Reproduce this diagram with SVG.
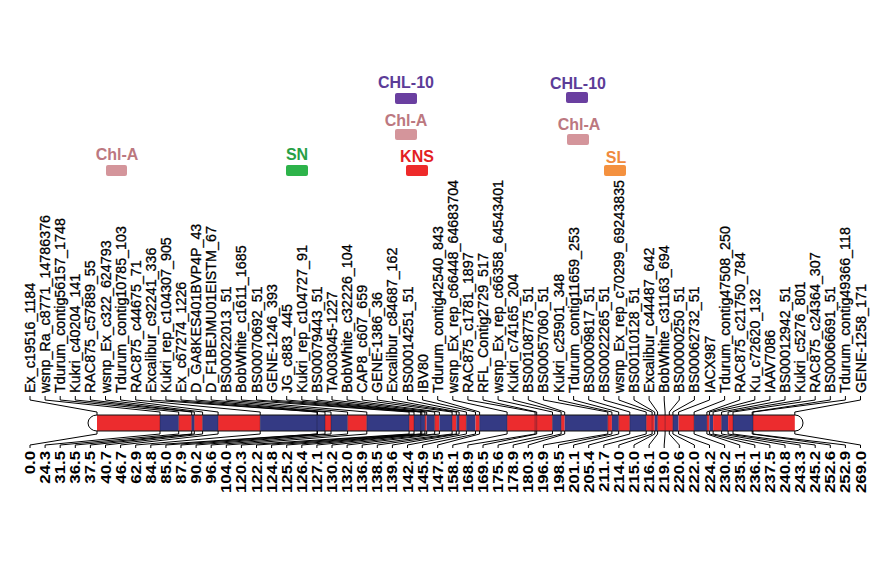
<svg xmlns="http://www.w3.org/2000/svg" width="883" height="585" viewBox="0 0 883 585">
<style>
.t{font-family:"Liberation Sans",Arial,sans-serif;font-size:14.3px;fill:#000;stroke:#000;stroke-width:0.3px}
.n{font-family:"Liberation Sans",Arial,sans-serif;font-size:14px;font-weight:bold;fill:#000;text-anchor:end}
.cn path{fill:none;stroke:#000;stroke-width:1}
.r{fill:#EC2C2E}
.b{fill:#343A84}
.q{font-family:"Liberation Sans",Arial,sans-serif;font-size:16px;font-weight:bold;text-anchor:middle}
.mk{stroke:#1a1a30;stroke-width:0.6;opacity:0.6}
</style>
<rect width="883" height="585" fill="#fff"/>
<g id="qtl-chla-1"><text class="q" x="117" y="160" fill="#BC7880">Chl-A</text><rect x="106" y="165" width="21" height="11" rx="2" fill="#D4959B"/></g>
<g id="qtl-sn"><text class="q" x="297" y="160" fill="#27A046">SN</text><rect x="286" y="165" width="22" height="11" rx="2" fill="#2DB34A"/></g>
<g id="qtl-chl10-1"><text class="q" x="406" y="88" fill="#5C3C98">CHL-10</text><rect x="395" y="93" width="22" height="11" rx="2" fill="#6A3FA0"/></g>
<g id="qtl-chla-2"><text class="q" x="406" y="126" fill="#BC7880">Chl-A</text><rect x="395" y="129" width="22" height="11" rx="2" fill="#D4959B"/></g>
<g id="qtl-kns"><text class="q" x="417" y="162" fill="#E31E24">KNS</text><rect x="406" y="165" width="22" height="11" rx="2" fill="#EE2A2A"/></g>
<g id="qtl-chl10-2"><text class="q" x="578" y="89" fill="#5C3C98">CHL-10</text><rect x="566" y="92" width="22" height="11" rx="2" fill="#6A3FA0"/></g>
<g id="qtl-chla-3"><text class="q" x="579" y="130" fill="#BC7880">Chl-A</text><rect x="567" y="134" width="22" height="11" rx="2" fill="#D4959B"/></g>
<g id="qtl-sl"><text class="q" x="616" y="163" fill="#F08A3C">SL</text><rect x="604" y="165" width="22" height="11" rx="2" fill="#F4913F"/></g>

<g id="chromosome">
<path d="M97,415 A9,8 0 0 0 97,431" fill="#fff" stroke="#000"/>
<path d="M795,415 A8,8 0 0 1 795,431" fill="#fff" stroke="#000"/>
<rect class="r" x="97" y="415" width="63" height="16"/>
<rect class="b" x="160" y="415" width="18.7" height="16"/>
<rect class="r" x="178.7" y="415" width="13" height="16"/>
<rect class="b" x="191.7" y="415" width="2.6" height="16"/>
<rect class="r" x="194.3" y="415" width="8.3" height="16"/>
<rect class="b" x="202.6" y="415" width="15.5" height="16"/>
<rect class="r" x="218.1" y="415" width="42.1" height="16"/>
<rect class="b" x="260.2" y="415" width="64.8" height="16"/>
<rect class="r" x="325" y="415" width="6" height="16"/>
<rect class="b" x="331" y="415" width="16.6" height="16"/>
<rect class="r" x="347.6" y="415" width="19.2" height="16"/>
<rect class="b" x="366.8" y="415" width="42.3" height="16"/>
<rect class="r" x="409.1" y="415" width="4.9" height="16"/>
<rect class="b" x="414" y="415" width="10.9" height="16"/>
<rect class="r" x="424.9" y="415" width="1.8" height="16"/>
<rect class="b" x="426.7" y="415" width="8" height="16"/>
<rect class="r" x="434.7" y="415" width="4.7" height="16"/>
<rect class="b" x="439.4" y="415" width="12.7" height="16"/>
<rect class="r" x="452.1" y="415" width="4.2" height="16"/>
<rect class="b" x="456.3" y="415" width="2.8" height="16"/>
<rect class="r" x="459.1" y="415" width="7.3" height="16"/>
<rect class="b" x="466.4" y="415" width="9.1" height="16"/>
<rect class="r" x="475.5" y="415" width="4.1" height="16"/>
<rect class="b" x="479.6" y="415" width="27.5" height="16"/>
<rect class="r" x="507.1" y="415" width="45.4" height="16"/>
<rect class="b" x="552.5" y="415" width="8.6" height="16"/>
<rect class="r" x="561.1" y="415" width="3.6" height="16"/>
<rect class="b" x="564.7" y="415" width="43.1" height="16"/>
<rect class="r" x="607.8" y="415" width="4.1" height="16"/>
<rect class="b" x="611.9" y="415" width="6.8" height="16"/>
<rect class="r" x="618.7" y="415" width="11.1" height="16"/>
<rect class="b" x="629.8" y="415" width="16.4" height="16"/>
<rect class="r" x="646.2" y="415" width="8.5" height="16"/>
<rect class="b" x="654.7" y="415" width="2.9" height="16"/>
<rect class="r" x="657.6" y="415" width="15.3" height="16"/>
<rect class="b" x="672.9" y="415" width="5.7" height="16"/>
<rect class="r" x="678.6" y="415" width="15.5" height="16"/>
<rect class="b" x="694.1" y="415" width="12.8" height="16"/>
<rect class="r" x="706.9" y="415" width="2.5" height="16"/>
<rect class="b" x="709.4" y="415" width="3.7" height="16"/>
<rect class="r" x="713.1" y="415" width="8.5" height="16"/>
<rect class="b" x="721.6" y="415" width="6.5" height="16"/>
<rect class="r" x="728.1" y="415" width="4.9" height="16"/>
<rect class="b" x="733" y="415" width="20" height="16"/>
<rect class="r" x="753" y="415" width="41.8" height="16"/>
<path class="mk" d="M160,415V431M178.7,415V431M191.7,415V431M194.3,415V431M202.6,415V431M218.1,415V431M260.2,415V431M317,415V431M325,415V431M331,415V431M347.6,415V431M366.8,415V431M409.1,415V431M414,415V431M420.7,415V431M424.9,415V431M434.7,415V431M452.1,415V431M459.1,415V431M466.4,415V431M479.6,415V431M507.1,415V431M535.1,415V431M536.7,415V431M552.5,415V431M561.1,415V431M607.8,415V431M618.7,415V431M629.8,415V431M646.2,415V431M652.1,415V431M657.6,415V431M665.1,415V431M672.9,415V431M694.1,415V431M706.9,415V431M721.6,415V431M733,415V431M753,415V431"/>
<path d="M97,415H795M97,431H795" fill="none" stroke="#111" stroke-width="1"/>
</g>

<g id="connectors" class="cn">
<path d="M30,396V400L97,412V415"/>
<path d="M45.1,396V400L160,412V415"/>
<path d="M60.2,396V400L178.7,412V415"/>
<path d="M75.3,396V400L191.7,412V415"/>
<path d="M90.4,396V400L194.3,412V415"/>
<path d="M105.5,396V400L202.6,412V415"/>
<path d="M120.6,396V400L218.1,412V415"/>
<path d="M135.7,396V400L260.2,412V415"/>
<path d="M150.8,396V400L317,412V415"/>
<path d="M165.9,396V400L317.5,412V415"/>
<path d="M181,396V400L325,412V415"/>
<path d="M196.1,396V400L331,412V415"/>
<path d="M211.2,396V400L347.6,412V415"/>
<path d="M226.3,396V400L366.8,412V415"/>
<path d="M241.4,396V400L409.1,412V415"/>
<path d="M256.5,396V400L414,412V415"/>
<path d="M271.6,396V400L420.7,412V415"/>
<path d="M286.7,396V400L421.8,412V415"/>
<path d="M301.8,396V400L424.9,412V415"/>
<path d="M316.9,396V400L426.7,412V415"/>
<path d="M332,396V400L434.7,412V415"/>
<path d="M347.1,396V400L439.4,412V415"/>
<path d="M362.2,396V400L452.1,412V415"/>
<path d="M377.3,396V400L456.3,412V415"/>
<path d="M392.4,396V400L459.1,412V415"/>
<path d="M407.5,396V400L466.4,412V415"/>
<path d="M422.6,396V400L475.5,412V415"/>
<path d="M437.7,396V400L479.6,412V415"/>
<path d="M452.8,396V400L507.1,412V415"/>
<path d="M467.9,396V400L535.1,412V415"/>
<path d="M483,396V400L536.7,412V415"/>
<path d="M498.1,396V400L552.5,412V415"/>
<path d="M513.2,396V400L561.1,412V415"/>
<path d="M528.3,396V400L564.7,412V415"/>
<path d="M543.4,396V400L607.8,412V415"/>
<path d="M558.5,396V400L611.9,412V415"/>
<path d="M573.6,396V400L618.7,412V415"/>
<path d="M588.7,396V400L629.8,412V415"/>
<path d="M603.8,396V400L646.2,412V415"/>
<path d="M618.9,396V400L652.1,412V415"/>
<path d="M634,396V400L654.7,412V415"/>
<path d="M649.1,396V400L657.6,412V415"/>
<path d="M664.2,396V400L665.1,412V415"/>
<path d="M679.3,396V400L669.3,412V415"/>
<path d="M694.4,396V400L672.9,412V415"/>
<path d="M709.5,396V400L678.6,412V415"/>
<path d="M724.6,396V400L694.1,412V415"/>
<path d="M739.7,396V400L706.9,412V415"/>
<path d="M754.8,396V400L709.4,412V415"/>
<path d="M769.9,396V400L713.1,412V415"/>
<path d="M785,396V400L721.6,412V415"/>
<path d="M800.1,396V400L728.1,412V415"/>
<path d="M815.2,396V400L733,412V415"/>
<path d="M830.3,396V400L752.2,412V415"/>
<path d="M845.4,396V400L753,412V415"/>
<path d="M860.5,396V400L794.8,412V415"/>
<path d="M97,431V434L30,445V448"/>
<path d="M160,431V434L45.1,445V448"/>
<path d="M178.7,431V434L60.2,445V448"/>
<path d="M191.7,431V434L75.3,445V448"/>
<path d="M194.3,431V434L90.4,445V448"/>
<path d="M202.6,431V434L105.5,445V448"/>
<path d="M218.1,431V434L120.6,445V448"/>
<path d="M260.2,431V434L135.7,445V448"/>
<path d="M317,431V434L150.8,445V448"/>
<path d="M317.5,431V434L165.9,445V448"/>
<path d="M325,431V434L181,445V448"/>
<path d="M331,431V434L196.1,445V448"/>
<path d="M347.6,431V434L211.2,445V448"/>
<path d="M366.8,431V434L226.3,445V448"/>
<path d="M409.1,431V434L241.4,445V448"/>
<path d="M414,431V434L256.5,445V448"/>
<path d="M420.7,431V434L271.6,445V448"/>
<path d="M421.8,431V434L286.7,445V448"/>
<path d="M424.9,431V434L301.8,445V448"/>
<path d="M426.7,431V434L316.9,445V448"/>
<path d="M434.7,431V434L332,445V448"/>
<path d="M439.4,431V434L347.1,445V448"/>
<path d="M452.1,431V434L362.2,445V448"/>
<path d="M456.3,431V434L377.3,445V448"/>
<path d="M459.1,431V434L392.4,445V448"/>
<path d="M466.4,431V434L407.5,445V448"/>
<path d="M475.5,431V434L422.6,445V448"/>
<path d="M479.6,431V434L437.7,445V448"/>
<path d="M507.1,431V434L452.8,445V448"/>
<path d="M535.1,431V434L467.9,445V448"/>
<path d="M536.7,431V434L483,445V448"/>
<path d="M552.5,431V434L498.1,445V448"/>
<path d="M561.1,431V434L513.2,445V448"/>
<path d="M564.7,431V434L528.3,445V448"/>
<path d="M607.8,431V434L543.4,445V448"/>
<path d="M611.9,431V434L558.5,445V448"/>
<path d="M618.7,431V434L573.6,445V448"/>
<path d="M629.8,431V434L588.7,445V448"/>
<path d="M646.2,431V434L603.8,445V448"/>
<path d="M652.1,431V434L618.9,445V448"/>
<path d="M654.7,431V434L634,445V448"/>
<path d="M657.6,431V434L649.1,445V448"/>
<path d="M665.1,431V434L664.2,445V448"/>
<path d="M669.3,431V434L679.3,445V448"/>
<path d="M672.9,431V434L694.4,445V448"/>
<path d="M678.6,431V434L709.5,445V448"/>
<path d="M694.1,431V434L724.6,445V448"/>
<path d="M706.9,431V434L739.7,445V448"/>
<path d="M709.4,431V434L754.8,445V448"/>
<path d="M713.1,431V434L769.9,445V448"/>
<path d="M721.6,431V434L785,445V448"/>
<path d="M728.1,431V434L800.1,445V448"/>
<path d="M733,431V434L815.2,445V448"/>
<path d="M752.2,431V434L830.3,445V448"/>
<path d="M753,431V434L845.4,445V448"/>
<path d="M794.8,431V434L860.5,445V448"/>
</g>

<g id="marker-labels">
<text class="t" transform="translate(35,393) rotate(-90)">Ex_c19516_1184</text>
<text class="t" transform="translate(50.1,393) rotate(-90)">wsnp_Ra_c8771_14786376</text>
<text class="t" transform="translate(65.2,393) rotate(-90)">Tdurum_contig56157_1748</text>
<text class="t" transform="translate(80.3,393) rotate(-90)">Kukri_c40204_141</text>
<text class="t" transform="translate(95.4,393) rotate(-90)">RAC875_c57889_55</text>
<text class="t" transform="translate(110.5,393) rotate(-90)">wsnp_Ex_c322_624793</text>
<text class="t" transform="translate(125.6,393) rotate(-90)">Tdurum_contig10785_103</text>
<text class="t" transform="translate(140.7,393) rotate(-90)">RAC875_c44675_71</text>
<text class="t" transform="translate(155.8,393) rotate(-90)">Excalibur_c92241_336</text>
<text class="t" transform="translate(170.9,393) rotate(-90)">Kukri_rep_c104307_905</text>
<text class="t" transform="translate(186,393) rotate(-90)">Ex_c67274_1226</text>
<text class="t" transform="translate(201.1,393) rotate(-90)">D_GA8KES401BVP4P_43</text>
<text class="t" transform="translate(216.2,393) rotate(-90)">D_F1BEJMU01EISTM_67</text>
<text class="t" transform="translate(231.3,393) rotate(-90)">BS00022013_51</text>
<text class="t" transform="translate(246.4,393) rotate(-90)">BobWhite_c1611_1685</text>
<text class="t" transform="translate(261.5,393) rotate(-90)">BS00070692_51</text>
<text class="t" transform="translate(276.6,393) rotate(-90)">GENE-1246_393</text>
<text class="t" transform="translate(291.7,393) rotate(-90)">JG_c883_445</text>
<text class="t" transform="translate(306.8,393) rotate(-90)">Kukri_rep_c104727_91</text>
<text class="t" transform="translate(321.9,393) rotate(-90)">BS00079443_51</text>
<text class="t" transform="translate(337,393) rotate(-90)">TA003045-1227</text>
<text class="t" transform="translate(352.1,393) rotate(-90)">BobWhite_c32226_104</text>
<text class="t" transform="translate(367.2,393) rotate(-90)">CAP8_c607_659</text>
<text class="t" transform="translate(382.3,393) rotate(-90)">GENE-1386_36</text>
<text class="t" transform="translate(397.4,393) rotate(-90)">Excalibur_c84687_162</text>
<text class="t" transform="translate(412.5,393) rotate(-90)">BS00014251_51</text>
<text class="t" transform="translate(427.6,393) rotate(-90)">IBV80</text>
<text class="t" transform="translate(442.7,393) rotate(-90)">Tdurum_contig42540_843</text>
<text class="t" transform="translate(457.8,393) rotate(-90)">wsnp_Ex_rep_c66448_64683704</text>
<text class="t" transform="translate(472.9,393) rotate(-90)">RAC875_c1781_1897</text>
<text class="t" transform="translate(488,393) rotate(-90)">RFL_Contig2729_517</text>
<text class="t" transform="translate(503.1,393) rotate(-90)">wsnp_Ex_rep_c66358_64543401</text>
<text class="t" transform="translate(518.2,393) rotate(-90)">Kukri_c74165_204</text>
<text class="t" transform="translate(533.3,393) rotate(-90)">BS00108775_51</text>
<text class="t" transform="translate(548.4,393) rotate(-90)">BS00057060_51</text>
<text class="t" transform="translate(563.5,393) rotate(-90)">Kukri_c25901_348</text>
<text class="t" transform="translate(578.6,393) rotate(-90)">Tdurum_contig11659_253</text>
<text class="t" transform="translate(593.7,393) rotate(-90)">BS00009817_51</text>
<text class="t" transform="translate(608.8,393) rotate(-90)">BS00022265_51</text>
<text class="t" transform="translate(623.9,393) rotate(-90)">wsnp_Ex_rep_c70299_69243835</text>
<text class="t" transform="translate(639,393) rotate(-90)">BS00110128_51</text>
<text class="t" transform="translate(654.1,393) rotate(-90)">Excalibur_c44487_642</text>
<text class="t" transform="translate(669.2,393) rotate(-90)">BobWhite_c31163_694</text>
<text class="t" transform="translate(684.3,393) rotate(-90)">BS00000250_51</text>
<text class="t" transform="translate(699.4,393) rotate(-90)">BS00062732_51</text>
<text class="t" transform="translate(714.5,393) rotate(-90)">IACX987</text>
<text class="t" transform="translate(729.6,393) rotate(-90)">Tdurum_contig47508_250</text>
<text class="t" transform="translate(744.7,393) rotate(-90)">RAC875_c21750_784</text>
<text class="t" transform="translate(759.8,393) rotate(-90)">Ku_c72620_132</text>
<text class="t" transform="translate(774.9,393) rotate(-90)">IAAV7086</text>
<text class="t" transform="translate(790,393) rotate(-90)">BS00012942_51</text>
<text class="t" transform="translate(805.1,393) rotate(-90)">Kukri_c5276_801</text>
<text class="t" transform="translate(820.2,393) rotate(-90)">RAC875_c24364_307</text>
<text class="t" transform="translate(835.3,393) rotate(-90)">BS00066691_51</text>
<text class="t" transform="translate(850.4,393) rotate(-90)">Tdurum_contig49366_118</text>
<text class="t" transform="translate(865.5,393) rotate(-90)">GENE-1258_171</text>
</g>

<g id="position-labels">
<text class="n" transform="translate(35,451) rotate(-90) scale(1.2,1)">0.0</text>
<text class="n" transform="translate(50.1,451) rotate(-90) scale(1.2,1)">24.3</text>
<text class="n" transform="translate(65.2,451) rotate(-90) scale(1.2,1)">31.5</text>
<text class="n" transform="translate(80.3,451) rotate(-90) scale(1.2,1)">36.5</text>
<text class="n" transform="translate(95.4,451) rotate(-90) scale(1.2,1)">37.5</text>
<text class="n" transform="translate(110.5,451) rotate(-90) scale(1.2,1)">40.7</text>
<text class="n" transform="translate(125.6,451) rotate(-90) scale(1.2,1)">46.7</text>
<text class="n" transform="translate(140.7,451) rotate(-90) scale(1.2,1)">62.9</text>
<text class="n" transform="translate(155.8,451) rotate(-90) scale(1.2,1)">84.8</text>
<text class="n" transform="translate(170.9,451) rotate(-90) scale(1.2,1)">85.0</text>
<text class="n" transform="translate(186,451) rotate(-90) scale(1.2,1)">87.9</text>
<text class="n" transform="translate(201.1,451) rotate(-90) scale(1.2,1)">90.2</text>
<text class="n" transform="translate(216.2,451) rotate(-90) scale(1.2,1)">96.6</text>
<text class="n" transform="translate(231.3,451) rotate(-90) scale(1.2,1)">104.0</text>
<text class="n" transform="translate(246.4,451) rotate(-90) scale(1.2,1)">120.3</text>
<text class="n" transform="translate(261.5,451) rotate(-90) scale(1.2,1)">122.2</text>
<text class="n" transform="translate(276.6,451) rotate(-90) scale(1.2,1)">124.8</text>
<text class="n" transform="translate(291.7,451) rotate(-90) scale(1.2,1)">125.2</text>
<text class="n" transform="translate(306.8,451) rotate(-90) scale(1.2,1)">126.4</text>
<text class="n" transform="translate(321.9,451) rotate(-90) scale(1.2,1)">127.1</text>
<text class="n" transform="translate(337,451) rotate(-90) scale(1.2,1)">130.2</text>
<text class="n" transform="translate(352.1,451) rotate(-90) scale(1.2,1)">132.0</text>
<text class="n" transform="translate(367.2,451) rotate(-90) scale(1.2,1)">136.9</text>
<text class="n" transform="translate(382.3,451) rotate(-90) scale(1.2,1)">138.5</text>
<text class="n" transform="translate(397.4,451) rotate(-90) scale(1.2,1)">139.6</text>
<text class="n" transform="translate(412.5,451) rotate(-90) scale(1.2,1)">142.4</text>
<text class="n" transform="translate(427.6,451) rotate(-90) scale(1.2,1)">145.9</text>
<text class="n" transform="translate(442.7,451) rotate(-90) scale(1.2,1)">147.5</text>
<text class="n" transform="translate(457.8,451) rotate(-90) scale(1.2,1)">158.1</text>
<text class="n" transform="translate(472.9,451) rotate(-90) scale(1.2,1)">168.9</text>
<text class="n" transform="translate(488,451) rotate(-90) scale(1.2,1)">169.5</text>
<text class="n" transform="translate(503.1,451) rotate(-90) scale(1.2,1)">175.6</text>
<text class="n" transform="translate(518.2,451) rotate(-90) scale(1.2,1)">178.9</text>
<text class="n" transform="translate(533.3,451) rotate(-90) scale(1.2,1)">180.3</text>
<text class="n" transform="translate(548.4,451) rotate(-90) scale(1.2,1)">196.9</text>
<text class="n" transform="translate(563.5,451) rotate(-90) scale(1.2,1)">198.5</text>
<text class="n" transform="translate(578.6,451) rotate(-90) scale(1.2,1)">201.1</text>
<text class="n" transform="translate(593.7,451) rotate(-90) scale(1.2,1)">205.4</text>
<text class="n" transform="translate(608.8,451) rotate(-90) scale(1.2,1)">211.7</text>
<text class="n" transform="translate(623.9,451) rotate(-90) scale(1.2,1)">214.0</text>
<text class="n" transform="translate(639,451) rotate(-90) scale(1.2,1)">215.0</text>
<text class="n" transform="translate(654.1,451) rotate(-90) scale(1.2,1)">216.1</text>
<text class="n" transform="translate(669.2,451) rotate(-90) scale(1.2,1)">219.0</text>
<text class="n" transform="translate(684.3,451) rotate(-90) scale(1.2,1)">220.6</text>
<text class="n" transform="translate(699.4,451) rotate(-90) scale(1.2,1)">222.0</text>
<text class="n" transform="translate(714.5,451) rotate(-90) scale(1.2,1)">224.2</text>
<text class="n" transform="translate(729.6,451) rotate(-90) scale(1.2,1)">230.2</text>
<text class="n" transform="translate(744.7,451) rotate(-90) scale(1.2,1)">235.1</text>
<text class="n" transform="translate(759.8,451) rotate(-90) scale(1.2,1)">236.1</text>
<text class="n" transform="translate(774.9,451) rotate(-90) scale(1.2,1)">237.5</text>
<text class="n" transform="translate(790,451) rotate(-90) scale(1.2,1)">240.8</text>
<text class="n" transform="translate(805.1,451) rotate(-90) scale(1.2,1)">243.3</text>
<text class="n" transform="translate(820.2,451) rotate(-90) scale(1.2,1)">245.2</text>
<text class="n" transform="translate(835.3,451) rotate(-90) scale(1.2,1)">252.6</text>
<text class="n" transform="translate(850.4,451) rotate(-90) scale(1.2,1)">252.9</text>
<text class="n" transform="translate(865.5,451) rotate(-90) scale(1.2,1)">269.0</text>
</g>
</svg>
